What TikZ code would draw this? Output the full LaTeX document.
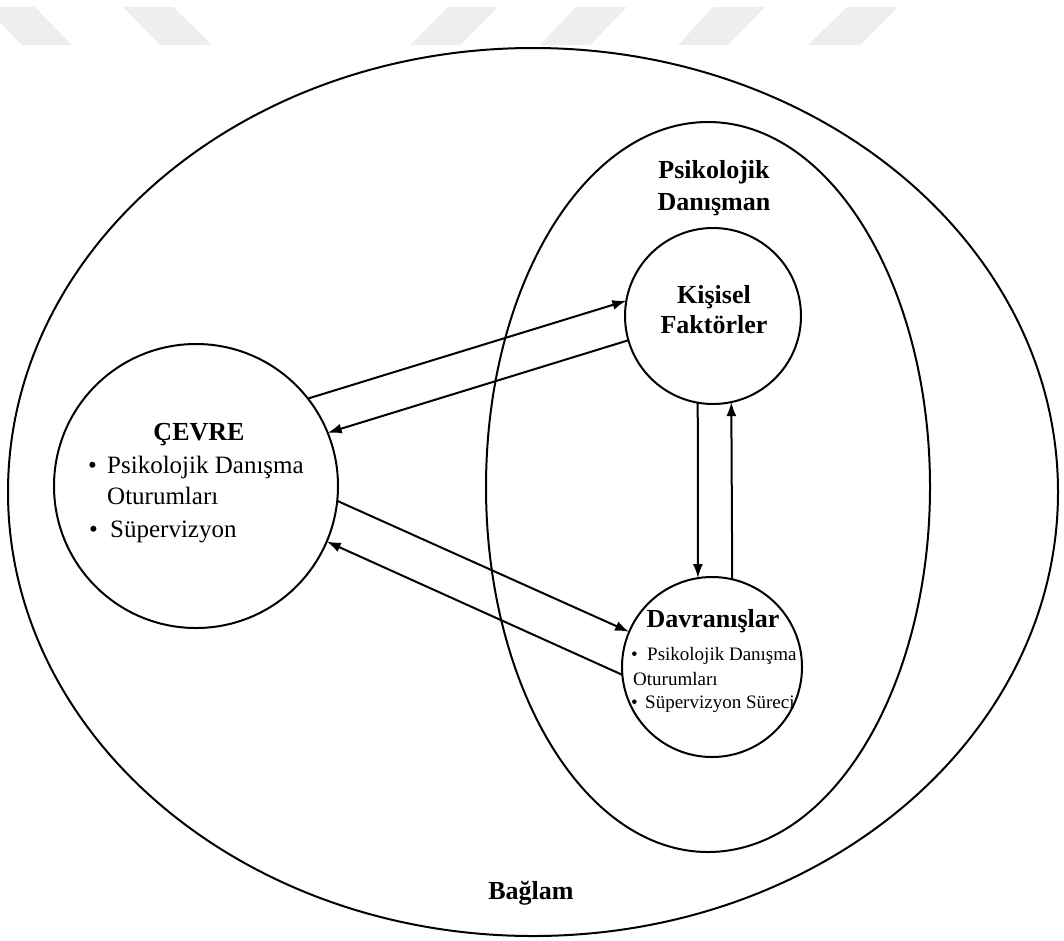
\documentclass[tikz,border=0pt]{standalone}
\usepackage{fontspec}
\setmainfont{Liberation Serif}
\usetikzlibrary{shapes.geometric,arrows.meta}
\definecolor{stripegray}{RGB}{238,238,238}
\tikzset{
  zone/.style={draw, ellipse, line width=2pt, inner sep=0pt, outer sep=0pt},
  ring/.style={draw, circle, line width=2pt, inner sep=0pt, outer sep=0pt},
  flow/.style={line width=2pt, -{Latex[length=14pt,width=10pt]}},
  head/.style={font=\fontsize{26}{31}\selectfont\bfseries, inner sep=0pt, anchor=base},
  item/.style={font=\fontsize{25}{30}\selectfont, inner sep=0pt, anchor=base west},
  subitem/.style={font=\fontsize{19}{23}\selectfont, inner sep=0pt, anchor=base west}
}
\begin{document}
\begin{tikzpicture}[x=1pt,y=-1pt]
\useasboundingbox (0,0) rectangle (1064,940);
\fill[stripegray] (-15,7) -- (35,7) -- (72,45) -- (22,45) -- cycle;
\fill[stripegray] (123,7) -- (173,7) -- (212,45) -- (160,45) -- cycle;
\fill[stripegray] (448,7) -- (498,7) -- (460,45) -- (410,45) -- cycle;
\fill[stripegray] (576,7) -- (627,7) -- (590,45) -- (540,45) -- cycle;
\fill[stripegray] (713,7) -- (765,7) -- (728,45) -- (678,45) -- cycle;
\fill[stripegray] (847,7) -- (898,7) -- (860,45) -- (808,45) -- cycle;
\path node[zone, minimum width=1050pt, minimum height=888pt] (Baglam) at (533,492) {}
node[zone, minimum width=444pt, minimum height=730pt] (Danisman) at (708,487) {}
node[ring, minimum size=284pt] (Cevre) at (196,486) {}
node[ring, minimum size=176pt] (Kisisel) at (713,316) {}
node[ring, minimum size=180pt] (Davranis) at (712,667) {}
;
\path node[head] (DanismanA) at (714,178) {Psikolojik}
node[head] (DanismanB) at (714,210) {Danışman}
node[head] (KisiselA) at (714,303) {Kişisel}
node[head] (KisiselB) at (714,333) {Faktörler}
node[head] (CevreLbl) at (199,440) {ÇEVRE}
node[head] (DavranisLbl) at (713,627) {Davranışlar}
node[head] (BaglamLbl) at (531,899) {Bağlam}
;
\path node[item] (CevreDotA) at (88,473) {\textbullet}
node[item] (CevreItemA) at (107,473) {Psikolojik Danışma}
node[item] (CevreItemB) at (107,504) {Oturumları}
node[item] (CevreDotB) at (89,537) {\textbullet}
node[item] (CevreItemC) at (110,537) {Süpervizyon}
;
\path node[subitem] (DavranisDotA) at (631,660) {\textbullet}
node[subitem] (DavranisItemA) at (647,660) {Psikolojik Danışma}
node[subitem] (DavranisItemB) at (633,685) {Oturumları}
node[subitem] (DavranisDotB) at (631,708) {\textbullet}
node[subitem] (DavranisItemC) at (645,708) {Süpervizyon Süreci}
;
\draw[flow] (Cevre.38) -- (Kisisel.170);
\draw[flow] (Kisisel.196) -- (Cevre.22);
\draw[flow] (Cevre.-6) -- (Davranis.157);
\draw[flow] (Davranis.185) -- (Cevre.-23);
\draw[flow] (Kisisel.260) -- (Davranis.99);
\draw[flow] (Davranis.77) -- (Kisisel.282);
\end{tikzpicture}
\end{document}
